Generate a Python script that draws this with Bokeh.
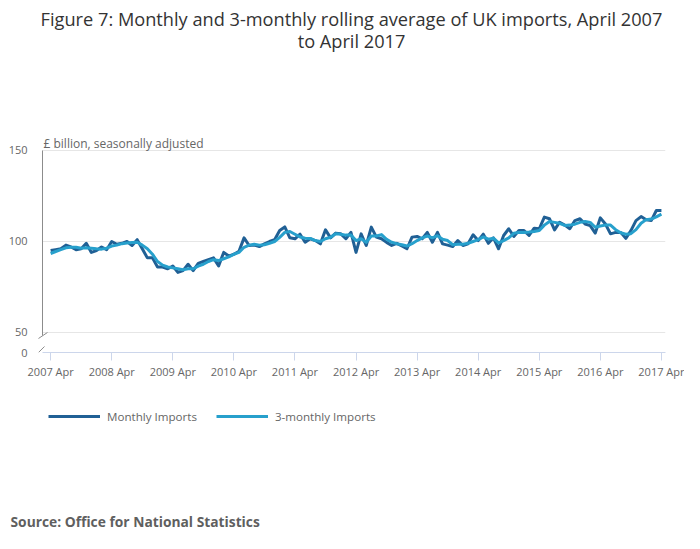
from bokeh.plotting import figure
from bokeh.layouts import column
from bokeh.models import (FixedTicker, Label, Legend, LegendItem, Arrow, ColumnDataSource, Range1d)
from bokeh.embed import file_html
from bokeh.resources import INLINE

# ---- data ----
tick_labels = ["2007 Apr", "2008 Apr", "2009 Apr", "2010 Apr", "2011 Apr", "2012 Apr",
               "2013 Apr", "2014 Apr", "2015 Apr", "2016 Apr", "2017 Apr"]

monthly = [
    95, 95.5, 96, 98, 97, 95.5, 96, 99, 94, 95, 97, 95.5,
    100, 98.5, 99, 100, 97.8, 101, 96, 91, 91, 86, 86, 85,
    86.5, 83, 84, 87.5, 84, 88, 89, 90, 91, 86.6, 94, 92,
    93, 94.6, 102, 97.8, 98, 97.2, 98.7, 100, 101, 106, 108, 102,
    101.5, 104, 99.6, 101.5, 100.5, 98.7, 106.4, 102, 104.6, 104.2, 101.5, 105,
    94, 104.2, 97.8, 107.9, 102.4, 101.5, 99.5, 97.8, 99, 97.5, 96, 102.4,
    102.8, 101.5, 105, 99.6, 105, 98.7, 98, 97.2, 100.5, 97.8, 98.7, 103.7,
    100.5, 104, 99, 102, 96, 103.3, 107, 102.8, 106, 106, 103.3, 107.3,
    107, 113.4, 112.5, 106.4, 110.6, 109, 107, 111.5, 112.5, 109.6, 108.7, 104.6,
    113, 109.6, 104.2, 105, 105, 101.7, 106, 111.5, 113.7, 111.9, 111.5, 117,
    117,
]

three_monthly = [
    93.4, 94.5, 95.5, 96.5, 96.8, 96.8, 96.3, 96.5, 96.3, 96.0, 95.8, 96.3,
    97.5, 98.0, 98.8, 99.2, 99.5, 99.6, 98.0, 96.0, 93.0, 89.0, 87.0, 86.0,
    85.5, 85.0, 84.5, 85.0, 85.0, 86.5, 87.5, 89.0, 90.0, 89.5, 90.5, 91.5,
    93.0, 94.0, 96.8, 98.0, 98.5, 98.0, 98.2, 99.0, 100.0, 102.3, 105.0, 105.5,
    104.0, 102.5, 101.8, 101.7, 100.5, 100.0, 101.5, 102.3, 104.2, 104.0, 103.5, 103.5,
    100.5, 101.5, 99.5, 103.0, 103.0, 103.8, 101.2, 99.6, 98.8, 98.2, 97.5, 98.8,
    100.5, 102.0, 103.0, 102.0, 103.2, 101.2, 100.5, 98.2, 98.5, 98.5, 99.0, 100.0,
    101.0, 102.5, 101.3, 101.8, 99.2, 100.5, 102.0, 104.5, 105.0, 105.0, 105.2, 105.5,
    106.0, 109.0, 111.0, 110.5, 110.0, 108.8, 109.0, 109.5, 110.5, 111.0, 110.5, 107.8,
    108.5, 109.0, 109.0, 106.5, 104.8, 104.0, 104.3, 106.5, 110.0, 112.0, 112.3, 113.5,
    115.0,
]

months = list(range(len(monthly)))
tick_pos = list(range(0, len(monthly), 12))

DARK = "#206095"
LIGHT = "#27a0cc"
FONT = "Open Sans"
W = 684


def screen_label(text, x, y, size, color, align="left", style="normal"):
    return Label(text=text, x=x, y=y, x_units="screen", y_units="screen",
                 text_font=FONT, text_font_size=size, text_color=color,
                 text_align=align, text_baseline="middle", text_font_style=style)


def blank_fig(h):
    f = figure(width=W, height=h, output_backend="svg", toolbar_location=None,
               x_range=Range1d(-1000, -999), y_range=Range1d(0, 1),
               x_axis_location=None, y_axis_location=None, frame_align=False,
               min_border_left=0, min_border_right=0, min_border_top=0, min_border_bottom=0)
    f.outline_line_color = None
    f.xgrid.grid_line_color = None
    f.ygrid.grid_line_color = None
    return f


# ---------- title block ----------
H0 = 136
p0 = blank_fig(H0)
p0.add_layout(screen_label(
    "Figure 7: Monthly and 3-monthly rolling average of UK imports, April 2007",
    351, H0 - 18, "18.2px", "#333333", align="center"))
p0.add_layout(screen_label("to April 2017", 351, H0 - 40, "18.2px", "#333333", align="center"))

# ---------- chart ----------
src = ColumnDataSource(dict(m=months, monthly=monthly, three=three_monthly))
xs, x0, x1 = -2.78, -1.6, 120.8
y0, y1 = 39.0, 157.69
H1 = 246

p = figure(width=W, height=H1, output_backend="svg", toolbar_location=None,
           x_range=(xs, x1), y_range=(y0, y1), frame_align=False,
           min_border_left=36, min_border_right=19, min_border_top=0, min_border_bottom=30)
p.outline_line_color = None

r1 = p.line("m", "monthly", source=src, line_color=DARK, line_width=3, line_join="round")
r2 = p.line("m", "three", source=src, line_color=LIGHT, line_width=3, line_join="round")

xa = p.xaxis[0]
xa.ticker = FixedTicker(ticks=tick_pos)
xa.bounds = (x0, x1)
xa.major_label_overrides = {t: lab for t, lab in zip(tick_pos, tick_labels)}
xa.axis_line_color = "#ccd6eb"
xa.major_tick_line_color = "#ccd6eb"
xa.major_tick_out = 8
xa.major_tick_in = 0
xa.minor_tick_line_color = None
xa.major_label_standoff = 3
xa.major_label_text_font = FONT
xa.major_label_text_font_size = "11px"
xa.major_label_text_color = "#666666"

ya = p.yaxis[0]
ya.ticker = FixedTicker(ticks=[y0, 50, 100, 150])
ya.major_label_overrides = {y0: "0", 50: "50", 100: "100", 150: "150"}
ya.axis_line_color = None
ya.major_tick_line_color = None
ya.minor_tick_line_color = None
ya.major_tick_out = 0
ya.major_tick_in = 0
ya.major_label_standoff = 9
ya.major_label_text_font = FONT
ya.major_label_text_font_size = "11px"
ya.major_label_text_color = "#666666"

p.xgrid.grid_line_color = None
p.ygrid.grid_line_color = None

GRID = "#e6e6e6"
for gy in (50, 100, 150):
    p.add_layout(Arrow(end=None, start=None, x_start=x0, y_start=gy, x_end=x1, y_end=gy,
                       line_color=GRID, line_width=1, level="underlay"))

AX = "#8c8c8c"
p.add_layout(Arrow(end=None, start=None, x_start=x0, y_start=150, x_end=x0, y_end=48.3,
                   line_color=AX, line_width=1))
p.add_layout(Arrow(end=None, start=None, x_start=-2.39, y_start=46.7, x_end=-0.62, y_end=50.0,
                   line_color=AX, line_width=1))
p.add_layout(Arrow(end=None, start=None, x_start=-2.39, y_start=39.0, x_end=-1.21, y_end=42.3,
                   line_color=AX, line_width=1))

p.add_layout(screen_label("£ billion, seasonally adjusted", 7, 216 - 7, "12px", "#666666"))

# ---------- legend + source ----------
H2 = 533 - H0 - H1
p2 = blank_fig(H2)
l1 = p2.line(months, monthly, line_color=DARK, line_width=3)
l2 = p2.line(months, three_monthly, line_color=LIGHT, line_width=3)
legend = Legend(items=[LegendItem(label="Monthly Imports", renderers=[l1]),
                       LegendItem(label="3-monthly Imports", renderers=[l2])],
                orientation="horizontal", location=(48, H2 - 34 - 10),
                margin=0, padding=0, spacing=19, glyph_width=52, label_standoff=7,
                label_text_font=FONT, label_text_font_size="11.6px", label_text_color="#666666",
                border_line_color=None, background_fill_alpha=0)
p2.add_layout(legend, "center")
p2.add_layout(screen_label("Source: Office for National Statistics", 10, H2 - 139, "13.8px",
                           "#5f5f5f", style="bold"))

open("out.html", "w").write(file_html(column(p0, p, p2, spacing=0), INLINE))
